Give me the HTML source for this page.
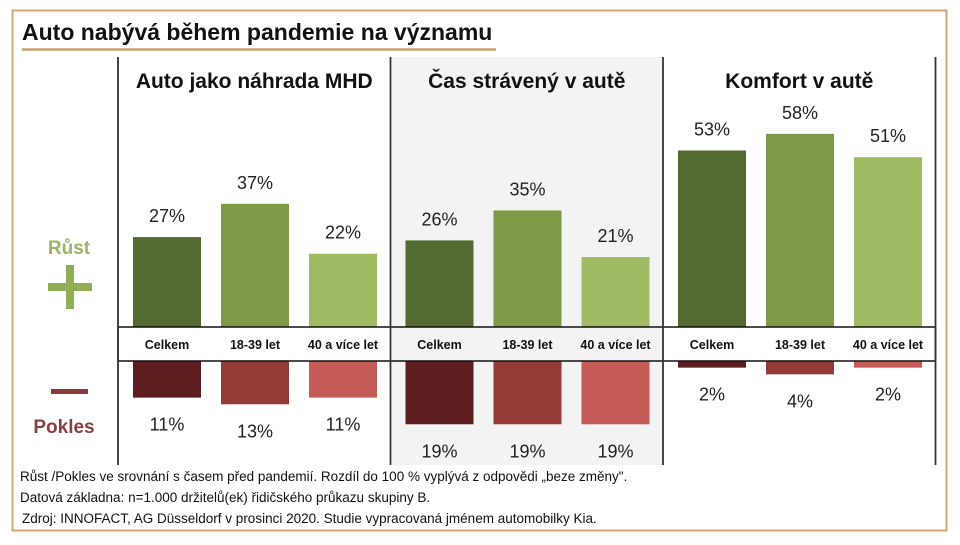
<!DOCTYPE html>
<html><head><meta charset="utf-8">
<style>
html,body{margin:0;padding:0;background:#fff;}
body{width:960px;height:540px;overflow:hidden;position:relative;font-family:"Liberation Sans",sans-serif;}
svg text{font-family:"Liberation Sans",sans-serif;}
</style></head>
<body>
<svg width="960" height="540" viewBox="0 0 960 540">
  <rect x="12.5" y="10.5" width="934" height="520" fill="#fff" stroke="#d9a66b" stroke-width="2"/>
  <text x="22" y="40" font-size="23" font-weight="bold" fill="#111">Auto nabývá během pandemie na významu</text>
  <line x1="22" y1="49.5" x2="496" y2="49.5" stroke="#c8a066" stroke-width="2.5"/>
  <rect x="392" y="57" width="271" height="408" fill="#f4f3f3"/>
  <text x="69" y="254" text-anchor="middle" font-size="19" font-weight="bold" fill="#9bb565">Růst</text>
  <rect x="48" y="283" width="44" height="8" fill="#8fae56"/>
  <rect x="66" y="265" width="8" height="44" fill="#8fae56"/>
  <rect x="51" y="389" width="37" height="5" fill="#8b3a3a"/>
  <text x="64" y="433" text-anchor="middle" font-size="19" font-weight="bold" fill="#8b4040">Pokles</text>
  <g id="bars"></g>
  <g id="frame"></g>
  <text x="20" y="481" font-size="13.5" fill="#111">Růst /Pokles ve srovnání s časem před pandemií. Rozdíl do 100 % vyplývá z odpovědi „beze změny".</text>
  <text x="20" y="502" font-size="13.5" fill="#111">Datová základna: n=1.000 držitelů(ek) řidičského průkazu skupiny B.</text>
  <text x="22" y="523" font-size="13.5" fill="#111">Zdroj: INNOFACT, AG Düsseldorf v prosinci 2020. Studie vypracovaná jménem automobilky Kia.</text>
</svg>
<script>
const panels = ["Auto jako náhrada MHD", "Čas strávený v autě", "Komfort v autě"];
const categories = ["Celkem", "18-39 let", "40 a více let"];
const growthValues = [[27, 37, 22], [26, 35, 21], [53, 58, 51]];
const declineValues = [[11, 13, 11], [19, 19, 19], [2, 4, 2]];

const NS = "http://www.w3.org/2000/svg";
const greens = ["#556a30", "#7f9a46", "#9fbb63"];
const reds = ["#5c1e1e", "#943b37", "#c45b56"];
const panelX0 = 118, panelW = 272.5, topBase = 327, botBase = 361, pxPer = 3.33;
const barW = 68, barGap = 20, barOff = 15;
function yUp(v){ return topBase - v * pxPer; }
function yDown(v){ return botBase + v * pxPer; }
function px(p){ return panelX0 + p * panelW; }
function bx(p, c){ return px(p) + barOff + c * (barW + barGap); }
function mk(tag, attrs, parent){ const e = document.createElementNS(NS, tag); for (const k in attrs) e.setAttribute(k, attrs[k]); parent.appendChild(e); return e; }
const g = document.getElementById("bars");
const f = document.getElementById("frame");
panels.forEach((title, p) => {
  const t = mk("text", {x: px(p) + panelW / 2, y: 88, "text-anchor": "middle", "font-size": 21, "font-weight": "bold", fill: "#111"}, g);
  
  
  t.textContent = title;
  categories.forEach((cat, c) => {
    const x = bx(p, c);
    const gv = growthValues[p][c], dv = declineValues[p][c];
    const r1 = mk("rect", {x: x, y: yUp(gv), width: barW, height: topBase - yUp(gv), fill: greens[c]}, g);
    
    
    const l1 = mk("text", {x: x + barW / 2, y: yUp(gv) - 15, "text-anchor": "middle", "font-size": 18, fill: "#222"}, g);
    
    
    l1.textContent = gv + "%";
    const r2 = mk("rect", {x: x, y: botBase, width: barW, height: yDown(dv) - botBase, fill: reds[c]}, g);
    
    
    const l2 = mk("text", {x: x + barW / 2, y: yDown(dv) + 33, "text-anchor": "middle", "font-size": 18, fill: "#222"}, g);
    
    
    l2.textContent = dv + "%";
    const cl = mk("text", {x: x + barW / 2, y: 349, "text-anchor": "middle", "font-size": 12.5, "font-weight": "bold", fill: "#111"}, g);
    
    
    cl.textContent = cat;
  });
});
const band = mk("rect", {x: panelX0, y: topBase, width: panelW * 3, height: botBase - topBase, fill: "none", stroke: "#111", "stroke-width": 1.5}, f);


for (let i = 0; i <= 3; i++) {
  const ln = mk("line", {x1: px(i), y1: 57, x2: px(i), y2: 465, stroke: "#333", "stroke-width": 1.8}, f);
  
  
}
</script>
</body></html>
